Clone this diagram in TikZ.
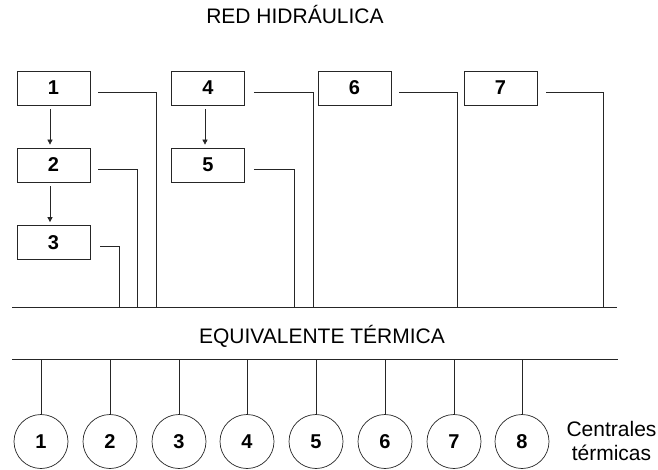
\documentclass[tikz,border=0pt]{standalone}
\usepackage{fontspec}
\setmainfont{Liberation Sans}
\usetikzlibrary{arrows.meta}

\begin{document}
\begin{tikzpicture}[
					x=1pt,y=-1pt,
					line width=0.7pt,
					color=black!85,
					unidad/.style={rectangle,draw,minimum width=73pt,minimum height=34pt,inner sep=0pt,text=black,font=\fontsize{20}{22}\selectfont\bfseries},
					central/.style={circle,draw,minimum size=54pt,inner sep=0pt,text=black,font=\fontsize{20}{22}\selectfont\bfseries},
					titulo/.style={anchor=base,text=black,font=\fontsize{21}{25}\selectfont},
					]
					\useasboundingbox (0,0) rectangle (658,470);
					\node [titulo] (red) at (295,24) {RED HIDRÁULICA};
					\node [titulo] (equiv) at (322,343) {EQUIVALENTE TÉRMICA};
					\node [align=center,text=black,font=\fontsize{21}{24}\selectfont] (cent) at (611.5,440.5) {Centrales\\térmicas};
					% centrales hidraulicas
					\node [unidad] (h1) at (53.5,88) {1};
					\node [unidad] (h2) at (53.5,165) {2};
					\node [unidad] (h3) at (53.5,242.5) {3};
					\node [unidad] (h4) at (208,88) {4};
					\node [unidad] (h5) at (208,165) {5};
					\node [unidad] (h6) at (354.5,88) {6};
					\node [unidad] (h7) at (500.5,88) {7};
					\draw[-{Triangle[length=5pt,width=5pt]}] ([xshift=-3.5pt,yshift=-4pt]h1.south) -- ([xshift=-3.5pt,yshift=3pt]h2.north);
					\draw[-{Triangle[length=5pt,width=5pt]}] ([xshift=-3.5pt,yshift=-4pt]h2.south) -- ([xshift=-3.5pt,yshift=3pt]h3.north);
					\draw[-{Triangle[length=5pt,width=5pt]}] ([xshift=-3pt,yshift=-4pt]h4.south) -- ([xshift=-3pt,yshift=3pt]h5.north);
					% barras
					\coordinate (hl) at (12,307);
					\coordinate (hr) at (617,307);
					\coordinate (el) at (12,359);
					\coordinate (er) at (618,359);
					\draw (hl) -- (hr);
					\draw (el) -- (er);
					\draw ([xshift=8pt,yshift=-4pt]h1.east) -- ++(58,0) coordinate (t1) -- (t1 |- hl);
					\draw ([xshift=8pt,yshift=-4pt]h2.east) -- ++(39,0) coordinate (t2) -- (t2 |- hl);
					\draw ([xshift=10pt,yshift=-4pt]h3.east) -- ++(19,0) coordinate (t3) -- (t3 |- hl);
					\draw ([xshift=9pt,yshift=-4pt]h4.east) -- ++(59,0) coordinate (t4) -- (t4 |- hl);
					\draw ([xshift=9pt,yshift=-4pt]h5.east) -- ++(40,0) coordinate (t5) -- (t5 |- hl);
					\draw ([xshift=8pt,yshift=-4pt]h6.east) -- ++(58,0) coordinate (t6) -- (t6 |- hl);
					\draw ([xshift=9pt,yshift=-4pt]h7.east) -- ++(57,0) coordinate (t7) -- (t7 |- hl);
					% centrales termicas
					\node [central] (c1) at (41,441.5) {1};
					\node [central] (c2) at (110,441.5) {2};
					\node [central] (c3) at (179,441.5) {3};
					\node [central] (c4) at (247,441.5) {4};
					\node [central] (c5) at (316,441.5) {5};
					\node [central] (c6) at (385,441.5) {6};
					\node [central] (c7) at (454,441.5) {7};
					\node [central] (c8) at (522,441.5) {8};
					\draw (c1.north) -- (c1.north |- el);
					\draw (c2.north) -- (c2.north |- el);
					\draw (c3.north) -- (c3.north |- el);
					\draw (c4.north) -- (c4.north |- el);
					\draw (c5.north) -- (c5.north |- el);
					\draw (c6.north) -- (c6.north |- el);
					\draw (c7.north) -- (c7.north |- el);
					\draw (c8.north) -- (c8.north |- el);
				\end{tikzpicture}
\end{document}
